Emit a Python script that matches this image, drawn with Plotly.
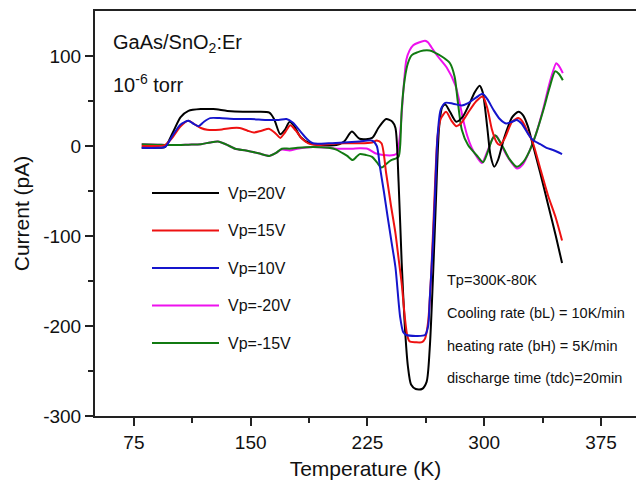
import plotly.graph_objects as go

# ---------------- data ----------------
T_20 = [80, 90, 95, 100, 105, 110, 118, 126, 135, 145, 155, 162, 165, 169, 172, 175, 178, 182, 188, 195,
        205, 210, 215, 220, 228, 232, 237, 241, 243, 245, 247, 249, 251, 253, 256, 260, 263, 265, 267, 269,
        271, 273, 275, 278, 282, 286, 290, 294, 297, 299, 302, 304, 306.5, 309, 313, 318, 322, 325, 328, 331,
        336, 341, 346, 350]
I_20 = [-2, -2, -1, 15, 32, 39, 41, 41, 39, 38, 38, 37, 30, 13, 18, 27, 22, 10, 3, 1,
        1, 5, 16, 8, 9, 20, 30, 27, 20, -40, -130, -200, -245, -265, -270, -270, -262, -225, -150, -60,
        20, 43, 46, 38, 27, 32, 45, 60, 67, 60, 20, -10, -23, -15, 10, 32, 38, 34, 22, 3,
        -30, -65, -100, -130]

T_15 = [80, 90, 95, 100, 105, 110, 114, 118, 122, 130, 138, 143, 148, 152, 157, 162, 166, 169, 172, 175.5,
        179, 183, 187, 193, 200, 210, 220, 228, 231, 234, 237, 240, 243, 245, 247, 249, 250.5, 252, 256, 260,
        262, 264, 266, 268, 270, 272, 275.5, 279, 282, 285, 290, 295, 299, 302, 305, 308, 310, 313, 318, 322,
        325, 328, 331, 336, 341, 346, 350]
I_15 = [0, 0, 1, 10, 22, 28, 24, 20, 18, 18, 20, 20, 17, 15, 17, 19, 14, 9, 15, 23,
        17, 8, 3, 1, 2, 3, 3, 4, 6, 3, -30, -65, -97, -125, -153, -190, -210, -217, -218, -218,
        -214, -195, -140, -60, 10, 30, 38, 28, 22, 25, 38, 50, 55, 42, 18, 4, 1, 8, 27, 31,
        26, 15, 5, -25, -55, -80, -105]

T_10 = [80, 90, 95, 100, 105, 110, 113, 116.5, 120, 124, 130, 140, 150, 160, 168, 173, 177, 182, 186, 190,
        200, 210, 220, 228, 231, 233, 235.5, 238, 240.5, 243, 246, 248, 250, 256, 262, 264, 265, 267, 268.5, 270,
        272, 275, 280, 285.6, 290, 295, 299, 302, 306, 310, 314, 318, 321, 324, 328, 331, 336, 340, 345, 350]
I_10 = [-2, -2, -1, 12, 24, 28, 25, 22, 27, 31, 31, 30, 30, 29, 29, 30, 26, 16, 8, 3,
        3, 4, 5, 6, 0, -23, -50, -79, -107, -135, -190, -207, -210, -211, -210, -200, -171, -110, -50, 10,
        40, 48, 47, 45, 48, 54, 58, 52, 40, 30, 25, 27, 29, 25, 14, 7, 2, -2, -5, -9]

T_m20 = [80, 90, 100, 110, 118, 124, 129, 134, 140, 147, 155, 162, 166, 170, 175, 180, 190, 200, 205, 210,
         215, 220, 225, 230, 235, 242, 244, 246, 248, 250, 252, 254.4, 258, 262, 264, 266, 270, 276, 281.4, 284,
         286.5, 289, 292, 296, 298.5, 302, 306, 308, 311, 315, 321, 325, 329, 333, 338, 342, 346.3, 348, 350.5]
I_m20 = [2, 1.5, 1, 1.5, 2, 4, 5, 2, -3, -5, -8, -11, -8, -4, -5, -3, -1, -2, -3, -3,
         -3, -2.5, -3, -8, -10, -10, -8, 14, 60, 96, 106, 112, 115, 117, 115, 110, 100, 87, 68, 50,
         29, 12, -2, -14, -19, -6, 10, 11, 1, -12, -25, -20, -6, 12, 42, 70, 92, 89, 81]

T_m15 = [80, 90, 100, 110, 118, 124, 129, 134, 140, 147, 155, 162, 166, 170, 175, 180, 190, 200, 205, 209,
         212, 215.5, 218, 220, 224, 228, 231, 234, 237, 240, 243, 245, 246, 247, 249, 251, 253.5, 257, 261, 265,
         268, 274, 278, 281, 283, 285.6, 289.6, 296, 299.3, 302, 305, 307, 309, 312, 316, 321, 325, 329, 333,
         338, 342, 345.6, 348, 350.5]
I_m15 = [2, 1.5, 1, 1.5, 2, 4, 5, 2, -3, -5, -8, -11, -8, -3, -3, -2, -1, -2, -4, -8,
         -11, -15.6, -12, -9, -10, -12, -18, -24, -20, -16, -14, -12, 0, 40, 75, 92, 101, 104, 106, 106,
         104, 98, 92, 77, 50, 18, 1, -12, -18, -8, 7, 12, 8, -1, -14, -23, -18, -6, 12,
         40, 65, 83, 80, 73]

series_names = ["Vp=20V", "Vp=15V", "Vp=10V", "Vp=-20V", "Vp=-15V"]
series_T = [T_20, T_15, T_10, T_m20, T_m15]
series_I = [I_20, I_15, I_10, I_m20, I_m15]
series_colors = ["#000000", "#ee1111", "#1515cc", "#ee11ee", "#117a11"]

x_ticks = [75, 150, 225, 300, 375]
y_ticks = [-300, -200, -100, 0, 100]

notes = ["Tp=300K-80K", "Cooling rate (bL) = 10K/min",
         "heating rate (bH) = 5K/min", "discharge time (tdc)=20min"]

# ---------------- figure ----------------
W, H = 636, 484
L, R, Tm, B = 95, 0, 11, 68
pw, ph = W - L - R, H - Tm - B

def px(xp):
    return (xp - L) / pw

def py(yp):
    return (H - B - yp) / ph

FONT = "Arial, Liberation Sans, sans-serif"

fig = go.Figure()
order = [3, 4, 0, 1, 2]
for i in order:
    fig.add_trace(go.Scatter(
        x=series_T[i], y=series_I[i], mode="lines", name=series_names[i],
        line=dict(color=series_colors[i], width=2, shape="spline", smoothing=0.7),
        showlegend=False, hoverinfo="x+y+name"))

# manual legend (long line samples as in the reference)
leg_y = [193, 230.5, 268, 305.5, 343]
for i, name in enumerate(series_names):
    fig.add_shape(type="line", xref="paper", yref="paper",
                  x0=px(152), x1=px(219), y0=py(leg_y[i]), y1=py(leg_y[i]),
                  line=dict(color=series_colors[i], width=2))
    fig.add_annotation(xref="paper", yref="paper", x=px(226), y=py(leg_y[i]),
                       text=name, showarrow=False, xanchor="left", yanchor="middle",
                       font=dict(family=FONT, size=16, color="#111"))

# header texts
fig.add_annotation(xref="paper", yref="paper", x=px(111), y=py(43),
                   text="GaAs/SnO<sub>2</sub>:Er", showarrow=False,
                   xanchor="left", yanchor="middle",
                   font=dict(family=FONT, size=20, color="#111"))
fig.add_annotation(xref="paper", yref="paper", x=px(111), y=py(83),
                   text="10<sup>-6</sup> torr", showarrow=False,
                   xanchor="left", yanchor="middle",
                   font=dict(family=FONT, size=20, color="#111"))

note_y = [280, 313, 346, 378]
for t, yy in zip(notes, note_y):
    fig.add_annotation(xref="paper", yref="paper", x=px(445), y=py(yy),
                       text=t, showarrow=False, xanchor="left", yanchor="middle",
                       font=dict(family=FONT, size=14.5, color="#111"))

fig.update_layout(
    width=W, height=H,
    margin=dict(l=L, r=R, t=Tm, b=B, pad=0),
    paper_bgcolor="white", plot_bgcolor="white",
    font=dict(family=FONT, color="#111"),
    showlegend=False,
)
fig.update_xaxes(
    range=[50, 397.5], tickvals=x_ticks, ticktext=[str(v) for v in x_ticks],
    ticks="outside", ticklen=8, tickwidth=1.5, tickcolor="#222",
    minor=dict(tickvals=[112.5, 187.5, 262.5, 337.5], ticks="outside", ticklen=5, tickwidth=1.5, tickcolor="#222"),
    showline=True, linecolor="#222", linewidth=2, mirror=True,
    showgrid=False, zeroline=False,
    tickfont=dict(family=FONT, size=19, color="#111"),
    title=dict(text="Temperature (K)", font=dict(family=FONT, size=21, color="#111"), standoff=10),
)
fig.update_yaxes(
    range=[-300, 150], tickvals=y_ticks, ticktext=[str(v) for v in y_ticks],
    ticks="outside", ticklen=8, tickwidth=1.5, tickcolor="#222",
    minor=dict(tickvals=[-250, -150, -50, 50], ticks="outside", ticklen=5, tickwidth=1.5, tickcolor="#222"),
    showline=True, linecolor="#222", linewidth=2, mirror=False,
    showgrid=False, zeroline=False,
    tickfont=dict(family=FONT, size=19, color="#111"),
    title=dict(text="Current (pA)", font=dict(family=FONT, size=21, color="#111"), standoff=8),
)

fig.write_html("out.html")
